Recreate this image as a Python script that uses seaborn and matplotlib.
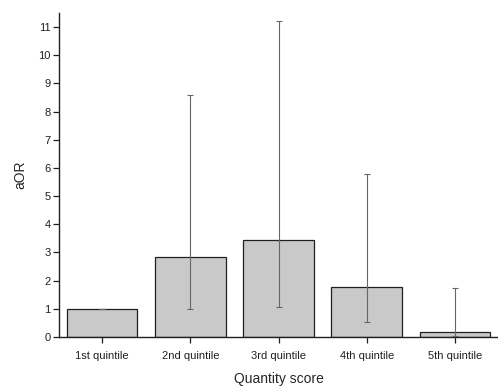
import matplotlib
matplotlib.use("Agg")
import matplotlib.pyplot as plt
import seaborn as sns
import numpy as np
import pandas as pd

categories = ["1st quintile", "2nd quintile", "3rd quintile", "4th quintile", "5th quintile"]
aor = [1.0, 2.85, 3.45, 1.77, 0.18]
ci_low = [1.0, 1.0, 1.05, 0.53, 0.02]
ci_high = [1.0, 8.58, 11.2, 5.8, 1.74]
yticks = list(range(0, 12))

sns.set_theme(style="ticks")
plt.rcParams["font.family"] = ["Liberation Sans", "DejaVu Sans"]

df = pd.DataFrame({"quintile": categories, "aOR": aor})

fig = plt.figure(figsize=(4.98, 3.87), dpi=100)
ax = fig.add_axes([59 / 498, 50 / 387, 439 / 498, 324 / 387])

sns.barplot(data=df, x="quintile", y="aOR", color="#c9c9c9", saturation=1,
            edgecolor="#202020", linewidth=0.9, width=0.8, ax=ax, zorder=2)

x = np.arange(len(categories))
vals = np.array(aor)
lower = vals - np.array(ci_low)
upper = np.array(ci_high) - vals
ax.errorbar(x, vals, yerr=[lower, upper], fmt="none", ecolor="#666666",
            elinewidth=0.8, capsize=2, capthick=0.8, zorder=3)

ax.set_xlim(-0.49, 4.49)
ax.set_ylim(0, 11.5)
ax.set_yticks(yticks)
ax.set_yticklabels([str(t) for t in yticks])
ax.tick_params(axis="both", labelsize=8, length=4, width=0.9, direction="out",
               colors="#202020", pad=2)
ax.tick_params(axis="x", pad=6)
ax.set_xlabel("Quantity score", fontsize=10, labelpad=8)
ax.set_ylabel("aOR", fontsize=10, labelpad=8)
sns.despine(ax=ax)
for s in ["left", "bottom"]:
    ax.spines[s].set_linewidth(1.0)
    ax.spines[s].set_color("#202020")

fig.savefig("out.png", dpi=100, facecolor="white")
